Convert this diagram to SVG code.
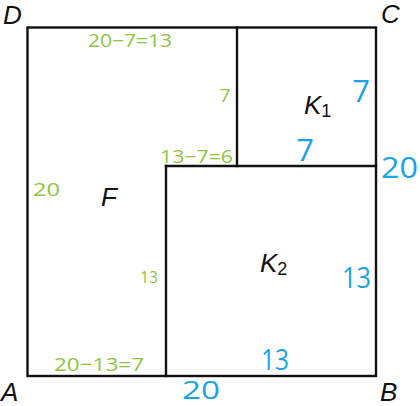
<svg xmlns="http://www.w3.org/2000/svg" width="420" height="406" viewBox="0 0 420 406">
<style>
.ln{fill:none;stroke:#111;stroke-width:2.4;stroke-linecap:square}
.pt{font-family:"Liberation Sans",Arial,sans-serif;font-style:italic;font-size:26px;fill:#111}
.g{font-family:"Open Sans","DejaVu Sans",sans-serif;fill:#8cc63f}
.b{font-family:"Open Sans","DejaVu Sans",sans-serif;fill:#1aa3e6}
.sub{font-size:18px;font-style:normal}
</style>
<rect width="420" height="406" fill="#fff"/>
<g id="connectors">
<rect class="ln" x="27.5" y="27.5" width="348.5" height="348.5"/>
<line class="ln" x1="237" y1="27.5" x2="237" y2="166"/>
<line class="ln" x1="166" y1="166" x2="376" y2="166"/>
<line class="ln" x1="166" y1="166" x2="166" y2="376"/>
</g>
<g id="points">
<text class="pt" x="3" y="24">D</text>
<text class="pt" x="381" y="23" font-size="24">C</text>
<text class="pt" x="1" y="401" font-size="25">A</text>
<text class="pt" x="380" y="401" font-size="25">B</text>
</g>
<g id="F"><text class="pt" x="101" y="206" font-size="29">F</text></g>
<g id="K1"><text class="pt" x="304" y="114">K<tspan class="sub" dy="3">1</tspan></text></g>
<g id="K2"><text class="pt" x="260" y="272">K<tspan class="sub" dy="3">2</tspan></text></g>
<g id="labels">
<text class="g" x="88" y="47" font-size="18" textLength="84" lengthAdjust="spacingAndGlyphs">20−7=13</text>
<text class="g" x="225" y="102" font-size="19" text-anchor="middle">7</text>
<text class="g" x="160" y="163" font-size="18" textLength="73" lengthAdjust="spacingAndGlyphs">13−7=6</text>
<text class="g" x="33" y="196" font-size="19" textLength="27" lengthAdjust="spacingAndGlyphs">20</text>
<text class="g" x="140" y="283" font-size="17" textLength="18" lengthAdjust="spacingAndGlyphs">13</text>
<text class="g" x="54" y="371" font-size="19" textLength="90" lengthAdjust="spacingAndGlyphs">20−13=7</text>
<text class="b" x="361" y="102" font-size="31" text-anchor="middle">7</text>
<text class="b" x="305" y="161" font-size="31" text-anchor="middle">7</text>
<text class="b" x="381" y="178" font-size="29" textLength="37" lengthAdjust="spacingAndGlyphs">20</text>
<text class="b" x="342" y="288" font-size="29" textLength="29" lengthAdjust="spacingAndGlyphs">13</text>
<text class="b" x="261" y="370" font-size="29" textLength="28" lengthAdjust="spacingAndGlyphs">13</text>
<text class="b" x="182" y="399" font-size="26" textLength="38" lengthAdjust="spacingAndGlyphs">20</text>
</g>
</svg>
